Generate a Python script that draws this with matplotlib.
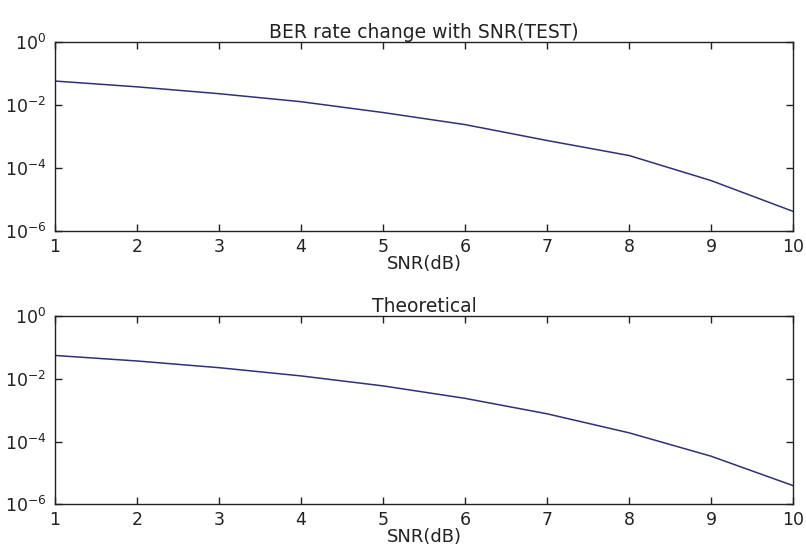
import matplotlib
matplotlib.use("Agg")
import matplotlib.pyplot as plt
from matplotlib.ticker import LogLocator, NullLocator

# values
snr_db = [1, 2, 3, 4, 5, 6, 7, 8, 9, 10]
ber_test = [0.058, 0.038, 0.023, 0.0128, 0.0058, 0.0024, 0.00075, 0.00025, 4.0e-5, 4.2e-6]
ber_theory = [0.0563, 0.0375, 0.0229, 0.0125, 0.0060, 0.0024, 0.00077, 0.00019, 3.4e-5, 3.9e-6]
titles = ["BER rate change with SNR(TEST)", "Theoretical"]

plt.rcParams['font.family'] = ['DejaVu Sans']
plt.rcParams['font.size'] = 12.5

fig = plt.figure(figsize=(8.06, 5.54), dpi=100, facecolor="white")
ax_top = fig.add_axes([0.068, 0.583, 0.916, 0.341])
ax_bot = fig.add_axes([0.068, 0.090, 0.916, 0.339])

for ax, ber, title in zip([ax_top, ax_bot], [ber_test, ber_theory], titles):
    ax.semilogy(snr_db, ber, color="#30307a", linewidth=1.1)
    ax.set_xlim(1, 10)
    ax.set_ylim(1e-6, 1)
    ax.set_xticks(snr_db)
    ax.yaxis.set_major_locator(LogLocator(base=100.0))
    ax.yaxis.set_minor_locator(NullLocator())
    ax.tick_params(direction="in", length=5, width=1, top=True, right=True,
                   labelsize=12.5, colors="#222222")
    ax.tick_params(axis="x", pad=5)
    ax.tick_params(axis="y", pad=6)
    for s in ax.spines.values():
        s.set_linewidth(1.0)
        s.set_color("#222222")
    ax.set_title(title, fontsize=13.5, pad=3, color="#222222")
    ax.set_xlabel("SNR(dB)", fontsize=13, labelpad=-1, color="#222222")

fig.savefig("out.png", dpi=100, facecolor="white")
